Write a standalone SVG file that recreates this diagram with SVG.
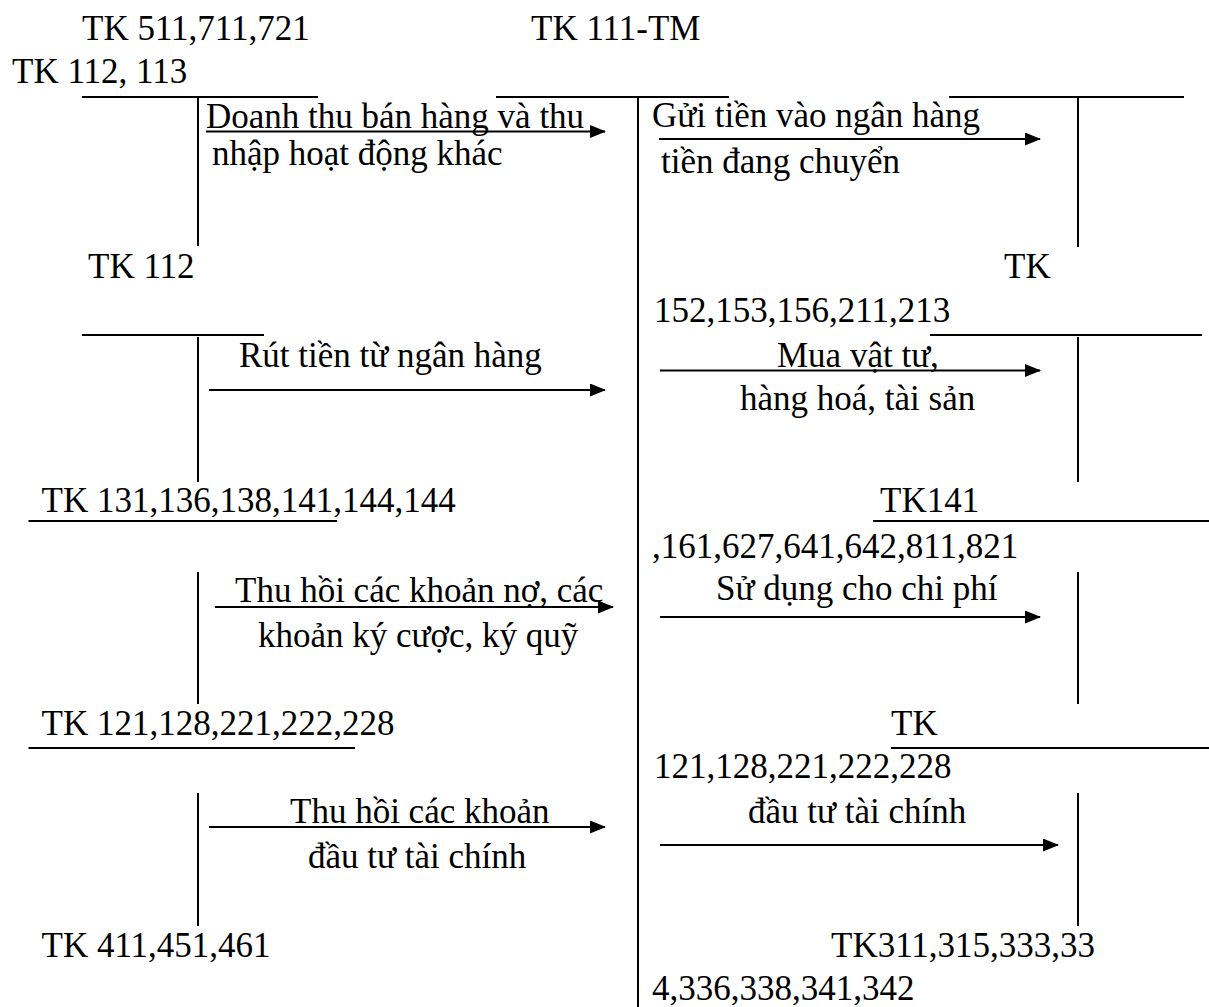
<svg xmlns="http://www.w3.org/2000/svg" width="1209" height="1007" viewBox="0 0 1209 1007">
<style>
text{font-family:"Liberation Serif","Times New Roman",serif;font-size:35px;fill:#000}
.ln{stroke:#000;stroke-width:2;fill:none}
.ar{stroke:#000;stroke-width:2;fill:none;marker-end:url(#ah)}
</style>
<defs>
<marker id="ah" markerUnits="userSpaceOnUse" markerWidth="16" markerHeight="13" refX="15" refY="6.5" orient="auto"><path d="M0,0 L16,6.5 L0,13 z" fill="#000"/></marker>
</defs>
<rect width="1209" height="1007" fill="#fff"/>
<g id="acc-511"><text x="82" y="40">TK 511,711,721</text></g>
<g id="acc-111"><text x="531" y="40">TK 111-TM</text><line class="ln" x1="496" y1="97" x2="729" y2="97"/><line class="ln" x1="638" y1="97" x2="638" y2="1007"/></g>
<g id="acc-112-113"><text x="12" y="83">TK 112, 113</text><line class="ln" x1="82" y1="97" x2="318" y2="97"/><line class="ln" x1="198" y1="97" x2="198" y2="246"/></g>
<g id="acc-r1"><line class="ln" x1="949" y1="97" x2="1184" y2="97"/><line class="ln" x1="1078" y1="97" x2="1078" y2="247"/></g>
<g id="acc-112"><text x="88" y="278">TK 112</text><line class="ln" x1="82" y1="335" x2="264" y2="335"/><line class="ln" x1="198" y1="337" x2="198" y2="482"/></g>
<g id="acc-152"><text x="1004" y="278">TK</text><text x="654" y="322">152,153,156,211,213</text><line class="ln" x1="930" y1="335" x2="1202" y2="335"/><line class="ln" x1="1078" y1="337" x2="1078" y2="482"/></g>
<g id="acc-131"><text x="41.5" y="512">TK 131,136,138,141,144,144</text><line class="ln" x1="28.5" y1="521" x2="337" y2="521"/><line class="ln" x1="198" y1="572" x2="198" y2="704"/></g>
<g id="acc-141"><text x="880" y="512">TK141</text><line class="ln" x1="873" y1="521" x2="1209" y2="521"/><text x="652" y="558">,161,627,641,642,811,821</text><line class="ln" x1="1078" y1="572" x2="1078" y2="704"/></g>
<g id="acc-121-l"><text x="41.5" y="735">TK 121,128,221,222,228</text><line class="ln" x1="28.5" y1="748" x2="355" y2="748"/><line class="ln" x1="198" y1="793" x2="198" y2="926"/></g>
<g id="acc-121-r"><text x="891" y="735">TK</text><line class="ln" x1="891" y1="748" x2="1209" y2="748"/><text x="654" y="778">121,128,221,222,228</text><line class="ln" x1="1078" y1="793" x2="1078" y2="926"/></g>
<g id="acc-411"><text x="41.5" y="957">TK 411,451,461</text></g>
<g id="acc-311"><text x="831" y="957">TK311,315,333,33</text><text x="652" y="1000">4,336,338,341,342</text></g>
<g id="connectors">
<line class="ar" x1="206" y1="131.5" x2="605" y2="131.5"/>
<line class="ar" x1="659" y1="139" x2="1040" y2="139"/>
<line class="ar" x1="209" y1="390" x2="605" y2="390"/>
<line class="ar" x1="660" y1="370.5" x2="1040" y2="370.5"/>
<line class="ar" x1="215" y1="607" x2="613" y2="607"/>
<line class="ar" x1="660" y1="617" x2="1040" y2="617"/>
<line class="ar" x1="209" y1="827" x2="605" y2="827"/>
<line class="ar" x1="660" y1="845" x2="1058" y2="845"/>
<text x="206" y="128">Doanh thu bán hàng và thu</text>
<text x="212" y="165">nhập hoạt động khác</text>
<text x="652" y="127">Gửi tiền vào ngân hàng</text>
<text x="661" y="173">tiền đang chuyển</text>
<text x="239" y="367">Rút tiền từ ngân hàng</text>
<text x="777" y="367">Mua vật tư,</text>
<text x="740" y="410">hàng hoá, tài sản</text>
<text x="235" y="602">Thu hồi các khoản nợ, các</text>
<text x="258" y="647">khoản ký cược, ký quỹ</text>
<text x="716" y="600">Sử dụng cho chi phí</text>
<text x="290" y="823">Thu hồi các khoản</text>
<text x="308" y="868">đầu tư tài chính</text>
<text x="748" y="823">đầu tư tài chính</text>
</g>
</svg>
